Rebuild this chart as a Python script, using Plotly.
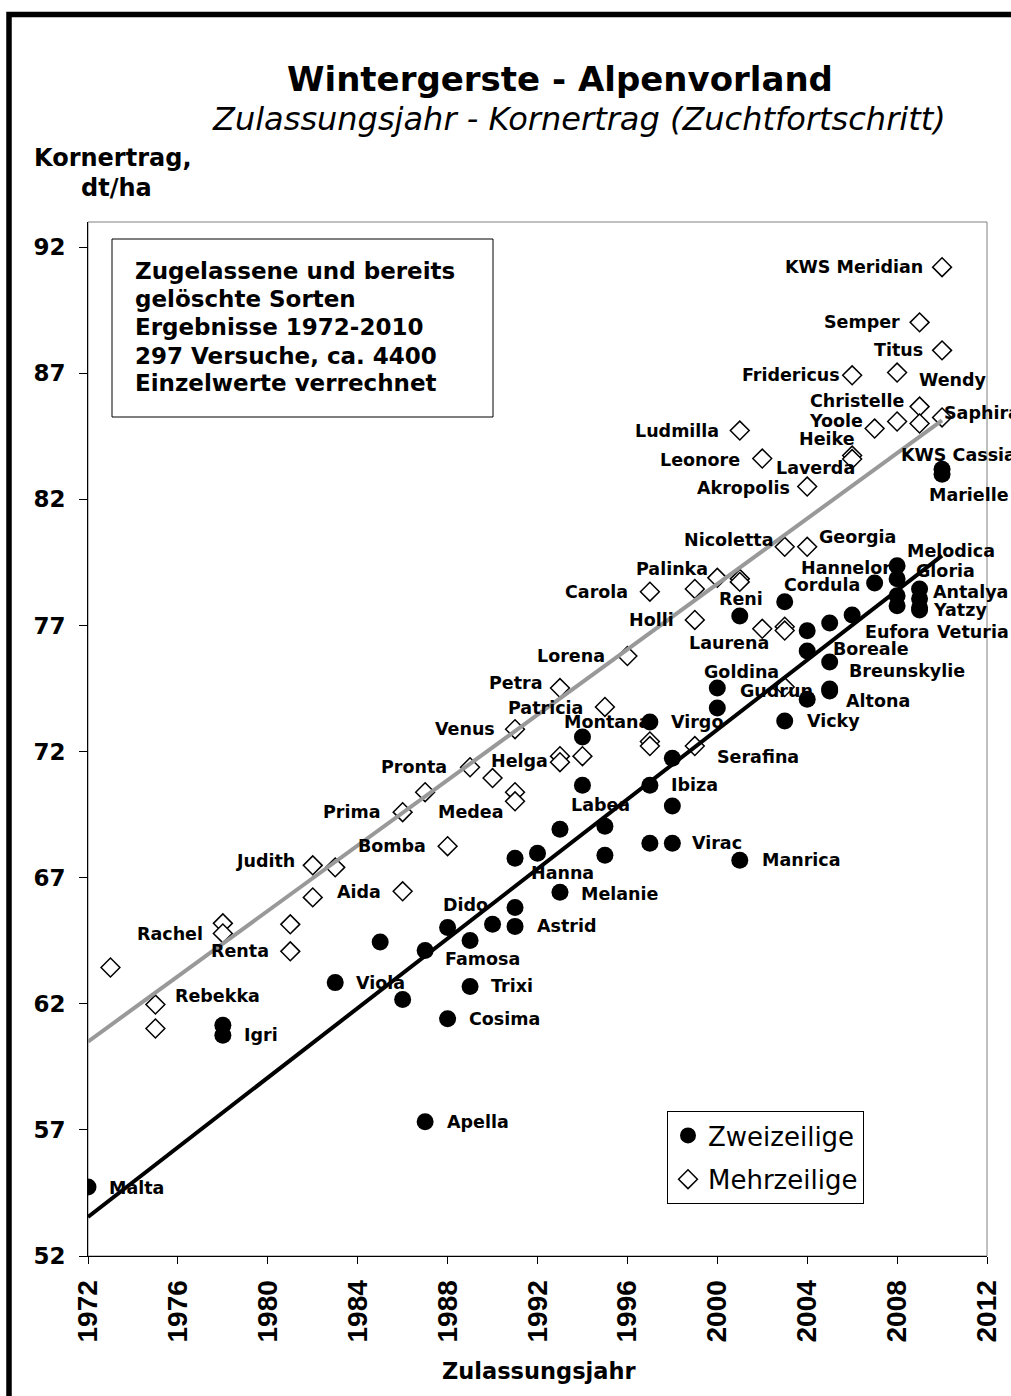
import plotly.graph_objects as go

# ---------------- data ----------------
zwei_year = [1972, 1978, 1978, 1983, 1985, 1986, 1987, 1987, 1988, 1988,
             1989, 1989, 1990, 1991, 1991, 1991, 1992, 1993, 1993, 1994,
             1994, 1995, 1995, 1997, 1997, 1997, 1998, 1998, 1998, 2000,
             2000, 2001, 2001, 2003, 2003, 2004, 2004, 2004, 2005, 2005,
             2005, 2005, 2006, 2007, 2008, 2008, 2008, 2008, 2009, 2009,
             2009, 2009, 2010, 2010]
zwei_yield = [54.74, 61.15, 60.75, 62.84, 64.45, 62.17, 64.11, 57.32, 65.03, 61.41,
              64.51, 62.69, 65.15, 65.07, 65.82, 67.77, 67.97, 68.92, 66.42, 70.67,
              72.58, 69.04, 67.89, 73.17, 70.67, 68.37, 68.37, 69.84, 71.74, 74.52,
              73.73, 67.69, 77.38, 77.94, 73.21, 74.08, 75.99, 76.79, 77.10, 75.55,
              74.48, 74.40, 77.42, 78.69, 79.37, 78.85, 78.18, 77.78, 78.45, 78.06,
              77.70, 77.62, 83.20, 83.00]
zwei_name = ["Malta", "", "Igri", "Viola", "", "", "", "Apella", "Dido", "Cosima",
             "Famosa", "Trixi", "", "Astrid", "", "", "Hanna", "", "Melanie", "",
             "Montana", "Labea", "", "Virgo", "Ibiza", "", "Virac", "", "", "Goldina",
             "", "Manrica", "Reni", "Cordula", "Vicky", "", "", "", "", "Boreale",
             "Breunskylie", "Altona", "Eufora", "Hannelore", "Melodica", "", "", "", "Gloria", "Antalya",
             "Yatzy", "Veturia", "KWS Cassia", "Marielle"]

mehr_year = [1973, 1975, 1975, 1978, 1978, 1981, 1981, 1982, 1982, 1983,
             1986, 1986, 1987, 1988, 1989, 1990, 1991, 1991, 1991, 1993,
             1993, 1993, 1994, 1995, 1996, 1997, 1997, 1997, 1999, 1999,
             1999, 2000, 2001, 2001, 2001, 2002, 2002, 2003, 2003, 2003,
             2003, 2004, 2004, 2006, 2006, 2006, 2007, 2008, 2008, 2009,
             2009, 2009, 2010, 2010, 2010]
mehr_yield = [63.44, 61.97, 61.02, 65.19, 64.79, 65.15, 64.08, 67.49, 66.22, 67.41,
              66.46, 69.60, 70.39, 68.25, 71.38, 70.95, 70.39, 70.03, 72.89, 71.82,
              71.58, 74.52, 71.82, 73.77, 75.79, 78.34, 72.40, 72.22, 78.45, 77.22,
              72.22, 78.89, 78.85, 78.73, 84.73, 76.87, 83.62, 80.12, 76.95, 76.80,
              74.56, 80.12, 82.51, 86.92, 83.74, 83.60, 84.81, 87.03, 85.09, 89.02,
              85.68, 85.01, 91.21, 87.91, 85.25]
mehr_name = ["", "Rebekka", "", "", "Rachel", "", "Renta", "Judith", "", "",
             "Aida", "Prima", "", "Bomba", "Pronta", "", "", "Medea", "Venus", "Helga",
             "", "Petra", "", "Patricia", "Lorena", "Carola", "", "", "Palinka", "Holli",
             "Serafina", "", "", "", "Ludmilla", "Laurena", "Leonore", "Nicoletta", "", "",
             "Gudrun", "Georgia", "Akropolis", "Fridericus", "Heike", "Laverda", "Yoole", "Wendy", "", "Semper",
             "Christelle", "", "KWS Meridian", "Titus", "Saphira"]

trend_year = [1972, 2010]
trend_zwei = [53.55, 79.77]
trend_mehr = [60.50, 85.13]

x_ticks = [1972, 1976, 1980, 1984, 1988, 1992, 1996, 2000, 2004, 2008, 2012]
y_ticks = [52, 57, 62, 67, 72, 77, 82, 87, 92]

info_lines = ["Zugelassene und bereits", "gelöschte Sorten", "Ergebnisse 1972-2010",
              "297 Versuche, ca. 4400", "Einzelwerte verrechnet"]

# ---------------- layout / style ----------------
W, H = 1011, 1396
L, R, T, B = 88, 24, 222, 140
PW, PH = W - L - R, H - T - B


def pxx(x):
    return (x - L) / PW


def pxy(y):
    return (H - B - y) / PH


LABEL_FONT = dict(family="DejaVu Sans", size=17.5, color="black", weight="bold")

# label placement: (xanchor, x shift px, y shift px) relative to the point
label_pos = {
    "Malta": ("left", 19, -1), "Igri": ("left", 19, 0), "Viola": ("left", 19, 0),
    "Apella": ("left", 20, 0), "Dido": ("center", 18, 22), "Cosima": ("left", 19, 0),
    "Famosa": ("center", 12, -18), "Trixi": ("left", 19, 0), "Astrid": ("left", 20, 0),
    "Hanna": ("center", 25, -20), "Melanie": ("left", 19, -2), "Montana": ("left", -20, 15),
    "Labea": ("center", -4, 21), "Virgo": ("left", 19, 0), "Ibiza": ("left", 19, 0),
    "Virac": ("left", 18, 0), "Goldina": ("center", 24, 16), "Manrica": ("left", 20, 0),
    "Reni": ("center", 1, 17), "Cordula": ("left", -3, 17), "Vicky": ("left", 20, 0),
    "Boreale": ("left", 1, 13), "Breunskylie": ("left", 17, 18), "Altona": ("left", 14, -10),
    "Eufora": ("left", 11, -17), "Hannelore": ("left", -76, 15), "Melodica": ("left", 8, 15),
    "Gloria": ("left", -6, 18), "Antalya": ("left", 11, 7), "Yatzy": ("left", 11, -2),
    "Veturia": ("left", 15, -22), "KWS Cassia": ("left", -43, 14), "Marielle": ("left", -15, -21),
    "Rebekka": ("left", 18, 9), "Rachel": ("right", -18, -1), "Renta": ("right", -19, 0),
    "Judith": ("right", -16, 4), "Aida": ("right", -20, -1), "Prima": ("right", -20, 0),
    "Bomba": ("right", -20, 0), "Pronta": ("right", -21, 0), "Medea": ("right", -9, -11),
    "Venus": ("right", -18, 0), "Helga": ("right", -10, -5), "Petra": ("right", -15, 5),
    "Patricia": ("right", -20, -1), "Lorena": ("right", -20, 0), "Carola": ("right", -20, 0),
    "Palinka": ("right", 15, 20), "Holli": ("right", -19, 0), "Serafina": ("left", 20, -11),
    "Ludmilla": ("right", -19, 0), "Laurena": ("right", 9, -14), "Leonore": ("right", -20, -1),
    "Nicoletta": ("right", -10, 7), "Gudrun": ("center", -8, -4), "Georgia": ("left", 10, 10),
    "Akropolis": ("right", -15, -1), "Fridericus": ("right", -10, 0), "Heike": ("right", 5, 17),
    "Laverda": ("left", -78, -9), "Yoole": ("right", -10, 8), "Wendy": ("left", 20, -7),
    "Semper": ("right", -18, 0), "Christelle": ("right", -13, 6), "KWS Meridian": ("right", -17, 0),
    "Titus": ("right", -17, 0), "Saphira": ("left", 0, 4),
}

fig = go.Figure()

fig.add_trace(go.Scatter(
    x=zwei_year, y=zwei_yield, mode="markers", name="Zweizeilige",
    legendgroup="a",
    marker=dict(symbol="circle", size=17, color="black", line=dict(width=0)),
    hovertext=zwei_name,
))
fig.add_trace(go.Scatter(
    x=mehr_year, y=mehr_yield, mode="markers", name="Mehrzeilige",
    legendgroup="b",
    marker=dict(symbol="diamond", size=14.5, color="white",
                line=dict(width=1.5, color="black")),
    hovertext=mehr_name,
))
fig.add_trace(go.Scatter(
    x=trend_year, y=trend_mehr, mode="lines", showlegend=False,
    line=dict(color="rgb(153,153,153)", width=4),
))
fig.add_trace(go.Scatter(
    x=trend_year, y=trend_zwei, mode="lines", showlegend=False,
    line=dict(color="black", width=4),
))

annotations = []
for xs, ys, ns in [(zwei_year, zwei_yield, zwei_name), (mehr_year, mehr_yield, mehr_name)]:
    for xv, yv, nm in zip(xs, ys, ns):
        if not nm:
            continue
        anc, dx, dy = label_pos[nm]
        annotations.append(dict(
            x=xv, y=yv, xref="x", yref="y", text=nm, showarrow=False,
            xanchor=anc, yanchor="middle", xshift=dx, yshift=dy, font=LABEL_FONT,
        ))

# titles
annotations.append(dict(x=pxx(560), y=pxy(79), xref="paper", yref="paper",
                        text="Wintergerste - Alpenvorland", showarrow=False,
                        xanchor="center", yanchor="middle",
                        font=dict(family="DejaVu Sans", size=34, color="black", weight="bold")))
annotations.append(dict(x=pxx(579), y=pxy(119), xref="paper", yref="paper",
                        text="Zulassungsjahr - Kornertrag (Zuchtfortschritt)", showarrow=False,
                        xanchor="center", yanchor="middle",
                        font=dict(family="DejaVu Sans", size=32, color="black", style="italic")))
annotations.append(dict(x=pxx(113), y=pxy(158), xref="paper", yref="paper",
                        text="Kornertrag,", showarrow=False,
                        xanchor="center", yanchor="middle",
                        font=dict(family="DejaVu Sans", size=24, color="black", weight="bold")))
annotations.append(dict(x=pxx(116), y=pxy(188), xref="paper", yref="paper",
                        text="dt/ha", showarrow=False,
                        xanchor="center", yanchor="middle",
                        font=dict(family="DejaVu Sans", size=24, color="black", weight="bold")))
annotations.append(dict(x=pxx(539), y=pxy(1371), xref="paper", yref="paper",
                        text="Zulassungsjahr", showarrow=False,
                        xanchor="center", yanchor="middle",
                        font=dict(family="DejaVu Sans", size=22.5, color="black", weight="bold")))

# info box text
info_y = [271, 299, 327, 356, 383]
for line, yy in zip(info_lines, info_y):
    annotations.append(dict(x=pxx(133), y=pxy(yy), xref="paper", yref="paper",
                            text=line, showarrow=False, xanchor="left", yanchor="middle",
                            font=dict(family="DejaVu Sans", size=23, color="black", weight="bold")))

shapes = [
    # plot area border (gray)
    dict(type="rect", xref="paper", yref="paper", x0=0, y0=0, x1=1, y1=1,
         line=dict(color="rgb(128,128,128)", width=1), layer="below"),
    # outer chart frame
    dict(type="rect", xref="paper", yref="paper", x0=pxx(9), x1=pxx(1040),
         y0=pxy(1430), y1=pxy(14.5), line=dict(color="black", width=5.5)),
    # info box
    dict(type="rect", xref="paper", yref="paper", x0=pxx(112), x1=pxx(493),
         y0=pxy(417), y1=pxy(239), line=dict(color="black", width=1),
         fillcolor="white", layer="below"),
]

fig.update_layout(
    width=W, height=H,
    margin=dict(l=L, r=R, t=T, b=B, pad=0, autoexpand=False),
    paper_bgcolor="white", plot_bgcolor="white",
    showlegend=True,
    legend=dict(x=pxx(667), y=pxy(1111), xanchor="left", yanchor="top",
                bordercolor="black", borderwidth=1, bgcolor="white",
                font=dict(family="DejaVu Sans", size=26, color="black"),
                tracegroupgap=7, itemsizing="trace", traceorder="grouped"),
    annotations=annotations,
    shapes=shapes,
    xaxis=dict(range=[1972, 2012], tickmode="array", tickvals=x_ticks,
               ticktext=[str(v) for v in x_ticks], tickangle=-90,
               ticks="outside", ticklen=7, tickwidth=1, tickcolor="black",
               showline=True, linecolor="black", linewidth=1, automargin=False,
               showgrid=False, zeroline=False, ticklabelstandoff=5,
               tickfont=dict(family="Liberation Sans", size=28, color="black", weight="bold")),
    yaxis=dict(range=[52, 93], tickmode="array", tickvals=y_ticks,
               ticks="outside", ticklen=8, tickwidth=1, tickcolor="black",
               showline=True, linecolor="black", linewidth=1, automargin=False,
               showgrid=False, zeroline=False, ticklabelstandoff=9,
               tickfont=dict(family="DejaVu Sans", size=23, color="black", weight="bold")),
)

fig.write_html("out.html",
               config={"displayModeBar": False},
               post_script="document.body.style.margin='0px';document.body.style.overflow='hidden';")
